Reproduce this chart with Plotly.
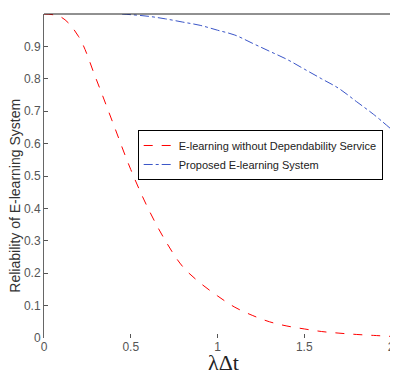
import plotly.graph_objects as go

x_red = [0, 0.1, 0.2, 0.3, 0.4, 0.5, 0.6, 0.7, 0.8, 0.9, 1.0, 1.1, 1.2, 1.3, 1.4, 1.5, 1.6, 1.7, 1.8, 1.9, 2.0]
y_red = [1.0, 0.99, 0.93, 0.80, 0.66, 0.52, 0.40, 0.30, 0.22, 0.17, 0.13, 0.095, 0.07, 0.05, 0.037, 0.028, 0.02, 0.015, 0.011, 0.008, 0.005]

x_blue = [0.45, 0.5, 0.6, 0.7, 0.8, 0.9, 1.0, 1.1, 1.2, 1.3, 1.4, 1.5, 1.6, 1.7, 1.8, 1.9, 2.0]
y_blue = [1.0, 0.998, 0.993, 0.985, 0.975, 0.965, 0.95, 0.935, 0.91, 0.885, 0.86, 0.83, 0.80, 0.77, 0.73, 0.69, 0.645]

x_ticks = [0, 0.5, 1, 1.5, 2]
x_tick_labels = ["0", "0.5", "1", "1.5", "2"]
y_ticks = [0, 0.1, 0.2, 0.3, 0.4, 0.5, 0.6, 0.7, 0.8, 0.9, 1]
y_tick_labels = ["0", "0.1", "0.2", "0.3", "0.4", "0.5", "0.6", "0.7", "0.8", "0.9", "1"]

x_title = "λΔt"
y_title = "Reliability of E-learning System"

fig = go.Figure()
fig.add_trace(go.Scatter(x=x_red, y=y_red, mode="lines", line=dict(color="red", width=1, dash="dash", shape="spline"),
                         name="E-learning without Dependability Service"))
fig.add_trace(go.Scatter(x=x_blue, y=y_blue, mode="lines", line=dict(color="#3a55c8", width=1, dash="dashdot", shape="spline"),
                         name="Proposed E-learning System"))

# page body adds an 8px margin; figure is sized so the plot sits where the reference has it
fig.update_layout(
    width=390, height=369,
    margin=dict(l=36, r=7, t=6, b=39),
    paper_bgcolor="white", plot_bgcolor="white",
    font=dict(family="Liberation Sans, Arial", size=12, color="#555"),
    showlegend=True,
    legend=dict(x=0.27, y=0.642, xanchor="left", yanchor="top",
                bordercolor="black", borderwidth=1, bgcolor="white",
                font=dict(size=11, color="#222"), tracegroupgap=0,
                itemwidth=30),
    xaxis=dict(range=[0, 2], tickvals=x_ticks, ticktext=x_tick_labels, automargin=False,
               ticks="inside", ticklen=4, tickcolor="#555", showgrid=False, zeroline=False,
               showline=False, mirror=False),
    yaxis=dict(range=[0, 1], tickvals=y_ticks, ticktext=y_tick_labels, automargin=False,
               ticks="inside", ticklen=4, tickcolor="#555", showgrid=False, zeroline=False,
               showline=True, linecolor="#666", mirror=True),
)
fig.add_shape(type="line", xref="paper", yref="paper", x0=0, x1=1, y0=1, y1=1, line=dict(color="#222", width=1))

fig.add_annotation(text=x_title, xref="paper", yref="paper", x=0.516, y=-0.117, yanchor="bottom",
                   showarrow=False, borderpad=0, font=dict(family="Liberation Serif, Times New Roman", size=22, color="#222"))
fig.add_annotation(text=y_title, xref="paper", yref="paper", x=-0.083, y=0.44, xanchor="center", yanchor="middle",
                   textangle=-90, showarrow=False, borderpad=0, font=dict(size=14, color="#333"))

fig.write_html("out.html")
